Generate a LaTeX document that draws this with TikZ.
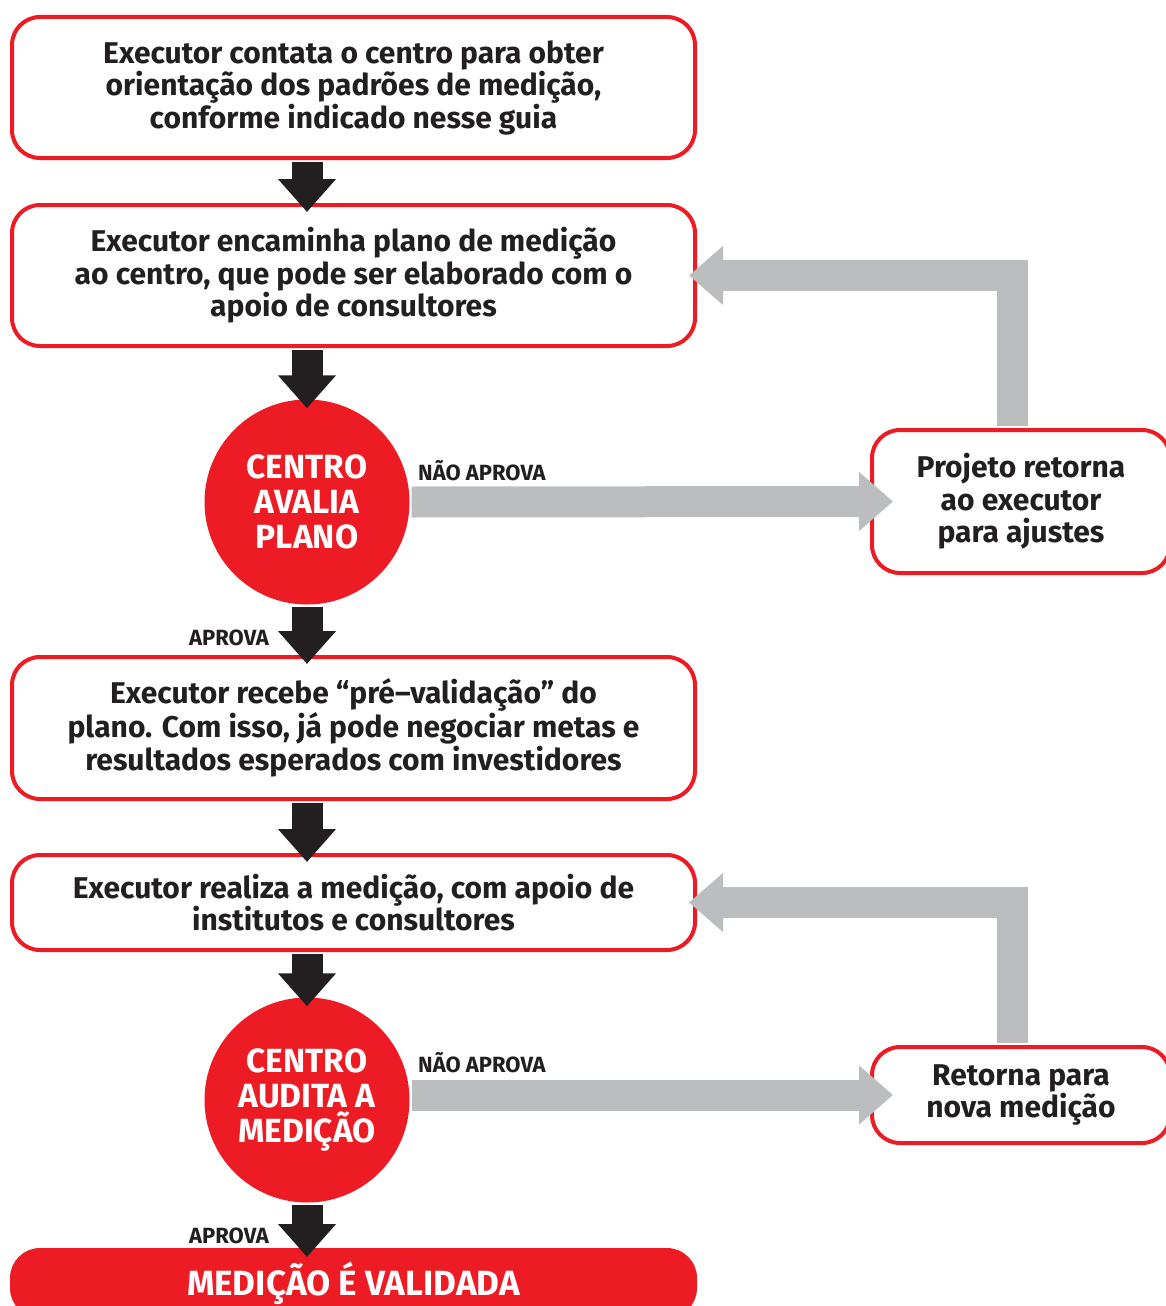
\documentclass[tikz,border=0pt]{standalone}
\usepackage{fontspec}
\setmainfont{Fira Sans}
\usetikzlibrary{arrows.meta}
\definecolor{vermelho}{HTML}{ED1C24}
\definecolor{cinza}{HTML}{BCBDBF}
\definecolor{preto}{HTML}{231F20}
\tikzset{
  etapa/.style={draw=vermelho, line width=4pt, rounded corners=28pt, fill=white, text=preto,
    align=center, inner sep=0pt, font=\bfseries\fontsize{30}{32.5}\selectfont},
  decisao/.style={circle, fill=vermelho, text=white, align=center, inner sep=0pt,
    minimum size=205pt, font=\bfseries\fontsize{33.5}{35}\selectfont},
  avanca/.style={draw=preto, line width=31pt, -{Triangle[width=56pt,length=33pt]},
    shorten <=2pt, shorten >=-9pt},
  volta/.style={draw=cinza, line width=31pt, -{Triangle[width=57pt,length=34pt]},
    shorten <=2pt},
  rotulo/.style={text=preto, inner sep=0pt, font=\bfseries\fontsize{22}{24}\selectfont}
}
\begin{document}
\begin{tikzpicture}[x=1pt,y=-1pt]
  \useasboundingbox[fill=white] (0,0) rectangle (1165,1306);
  \node[etapa, minimum width=683pt, minimum height=141pt] (contato) at (353.5,87.5)
    {Executor contata o centro para obter\\orientação dos padrões de medição,\\conforme indicado nesse guia};
  \node[etapa, minimum width=683pt, minimum height=141pt] (plano) at (353.5,275.5)
    {Executor encaminha plano de medição\\ao centro, que pode ser elaborado com o\\apoio de consultores};
  \node[decisao] (avalia) at (307,502) {CENTRO\\AVALIA\\PLANO};
  \node[etapa, minimum width=298pt, minimum height=143pt] (ajuste) at (1021,501.5)
    {Projeto retorna\\ao executor\\para ajustes};
  \node[etapa, minimum width=683pt, minimum height=142pt] (prevalida) at (353.5,728)
    {Executor recebe “pré–validação” do\\plano. Com isso, já pode negociar metas e\\resultados esperados com investidores};
  \node[etapa, minimum width=683pt, minimum height=95pt] (medicao) at (353.5,902.5)
    {Executor realiza a medição, com apoio de\\institutos e consultores};
  \node[decisao] (audita) at (307,1100) {CENTRO\\AUDITA A\\MEDIÇÃO};
  \node[etapa, minimum width=298pt, minimum height=96pt] (retorno) at (1021,1095)
    {Retorna para\\nova medição};
  \node[etapa, fill=vermelho, text=white, minimum width=683pt, minimum height=66pt,
    font=\bfseries\fontsize{35}{38}\selectfont] (validada) at (353.5,1283)
    {MEDIÇÃO É VALIDADA};
  % setas principais
  \draw[avanca] (contato.south -| avalia.center) -- (plano.north -| avalia.center);
  \draw[avanca] (plano.south -| avalia.center) -- (avalia.north);
  \draw[avanca] (avalia.south) -- (prevalida.north -| avalia.center);
  \draw[avanca] (prevalida.south -| avalia.center) -- (medicao.north -| avalia.center);
  \draw[avanca] (medicao.south -| avalia.center) -- (audita.north);
  \draw[avanca] (audita.south) -- (validada.north -| audita.center);
  % retornos
  \draw[volta, shorten >=-23pt] (avalia.east) -- (ajuste.west);
  \draw[volta, shorten >=-23pt] (retorno.west -| audita.east) -- (retorno.west);
  \draw[volta, shorten >=-8pt] ([xshift=-9pt]ajuste.north) |- (plano.east);
  \draw[volta, shorten >=-8pt] ([xshift=-9pt]retorno.north) |- (medicao.east);
  \node[rotulo, anchor=base west] (naoaprova) at (418,480) {NÃO APROVA};
  \node[rotulo, anchor=base west] (aprova) at (189,645) {APROVA};
  \node[rotulo, anchor=base west] (naoaprova2) at (418,1072) {NÃO APROVA};
  \node[rotulo, anchor=base west] (aprova2) at (189,1243) {APROVA};
\end{tikzpicture}
\end{document}
